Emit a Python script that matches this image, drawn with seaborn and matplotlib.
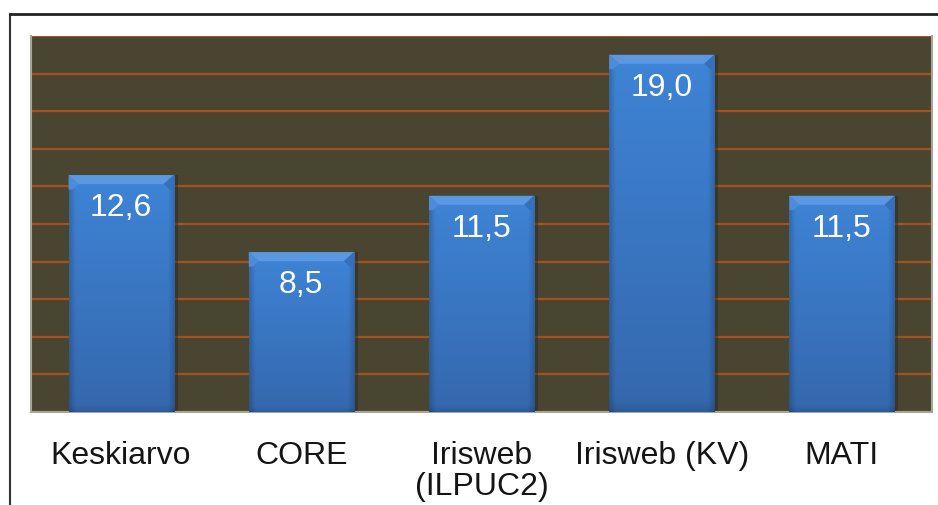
import matplotlib
matplotlib.use("Agg")
import matplotlib.pyplot as plt
import seaborn as sns
import pandas as pd
import numpy as np
from matplotlib.patches import Polygon, Rectangle
from matplotlib.lines import Line2D
from matplotlib.colors import to_rgb

categories = ["Keskiarvo", "CORE", "Irisweb\n(ILPUC2)", "Irisweb (KV)", "MATI"]
values = [12.6, 8.5, 11.5, 19.0, 11.5]
value_labels = ["12,6", "8,5", "11,5", "19,0", "11,5"]

sns.set_theme(style="white")
plt.rcParams['font.family'] = ['Liberation Sans', 'DejaVu Sans']

W, H = 938, 505
fig = plt.figure(figsize=(W / 100, H / 100), dpi=100)
ax = fig.add_axes([31 / W, (H - 412) / H, 901 / W, 376 / H])

bg = "#4a4530"
ax.set_facecolor(bg)
df = pd.DataFrame({"cat": categories, "val": values})
sns.barplot(data=df, x="cat", y="val", color="#3b7dcc", saturation=1,
            width=0.583, ax=ax, zorder=3, edgecolor="none")

ax.set_ylim(0, 20)
ax.set_xlim(-0.5, len(categories) - 0.5)
ax.set_yticks(range(0, 21, 2))
ax.yaxis.grid(True, color="#a3521c", linewidth=1.6, zorder=1)
ax.set_axisbelow(True)
ax.tick_params(axis="y", left=False, labelleft=False)
ax.tick_params(axis="x", bottom=False, pad=15, labelsize=23, labelcolor="#151515")
for tl in ax.get_xticklabels():
    tl.set_linespacing(1.05)
ax.set_xlabel("")
ax.set_ylabel("")
ax.spines["top"].set_visible(False)
for s in ["left", "right", "bottom"]:
    ax.spines[s].set_color("#a8a69a")
    ax.spines[s].set_linewidth(1.5)

# gradient texture for bars (vertical shading + darker side edges)
top_c = np.array(to_rgb("#3f84d6"))
bot_c = np.array(to_rgb("#3468ad"))
ny, nx = 200, 100
t = np.linspace(0, 1, ny)[:, None, None]
grad = top_c * (1 - t) + bot_c * t
grad = np.repeat(grad, nx, axis=1)
xs = np.linspace(0, 1, nx)
edge = np.clip(1 - np.minimum(xs, 1 - xs) / 0.06, 0, 1) * 0.18
grad = grad * (1 - edge[None, :, None])
ys = np.linspace(0, 1, ny)
bot_dark = np.clip((ys - 0.97) / 0.03, 0, 1) * 0.12
grad = grad * (1 - bot_dark[:, None, None])

inv = ax.transData.inverted()
for p, lab in zip(ax.patches[:len(values)], value_labels):
    x0, y0 = p.get_x(), p.get_y()
    w, h = p.get_width(), p.get_height()
    ox, oy = ax.transData.transform((x0, y0))
    bx = inv.transform((ox + 10, oy))[0] - x0
    by = inv.transform((ox, oy + 9))[1] - y0
    sx = inv.transform((ox + 4, oy))[0] - x0
    top = y0 + h
    # soft shadow
    ax.add_patch(Rectangle((x0 + sx, y0), w, h, facecolor="#1f1c12",
                           alpha=0.35, zorder=2.5, edgecolor="none"))
    im = ax.imshow(grad, extent=(x0, x0 + w, y0, top), aspect="auto",
                   zorder=3.5, origin="upper", interpolation="bilinear")
    im.set_clip_path(p)
    # top bevel
    ax.add_patch(Polygon([(x0, top), (x0 + w, top), (x0 + w - bx, top - by), (x0 + bx, top - by)],
                         closed=True, facecolor="#5b98e2", edgecolor="none", zorder=4))
    ax.add_patch(Polygon([(x0, top), (x0 + bx, top - by), (x0 + bx * 0.4, top - by * 1.6), (x0, top - by * 1.6)],
                         closed=True, facecolor="#4d8cd8", edgecolor="none", zorder=4))
    ax.add_patch(Polygon([(x0 + w, top), (x0 + w - bx, top - by), (x0 + w - bx * 0.4, top - by * 1.6), (x0 + w, top - by * 1.6)],
                         closed=True, facecolor="#3570b8", edgecolor="none", zorder=4))
    base = inv.transform((ox, ax.transData.transform((x0, top))[1] - 41))[1]
    ax.text(x0 + w / 2, base, lab, ha="center", va="baseline", color="white",
            fontsize=23, zorder=5)

ax.set_xlim(-0.5, len(categories) - 0.5)
ax.set_ylim(0, 20)

# outer frame (top and left lines)
fig.add_artist(Line2D([10 / W, 10 / W], [0, 1 - 14 / H], transform=fig.transFigure,
                      color="#333333", linewidth=1.5))
fig.add_artist(Line2D([10 / W, 1], [1 - 14 / H, 1 - 14 / H], transform=fig.transFigure,
                      color="#222222", linewidth=2))

fig.savefig("out.png", dpi=100)
